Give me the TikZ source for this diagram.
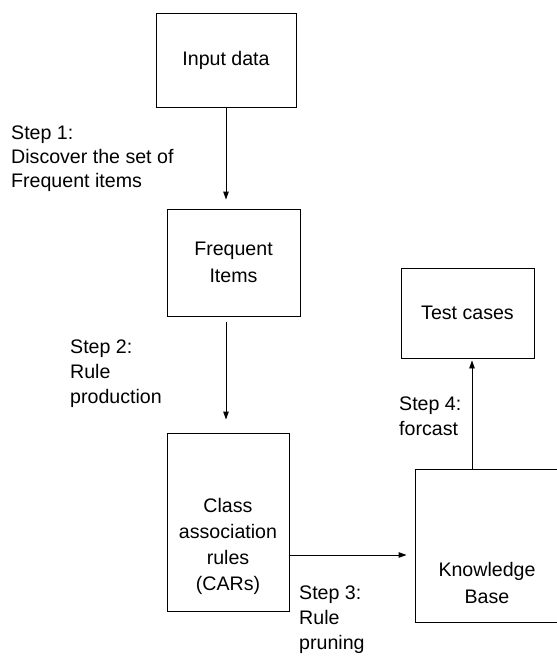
\documentclass[tikz,border=0pt]{standalone}
\usepackage{fontspec}
\setmainfont{Liberation Sans}
\usetikzlibrary{arrows.meta}
\tikzset{
	box/.style 2 args={draw,line width=0.9pt,minimum width=#1,minimum height=#2,inner sep=0pt},
	boxtext/.style={inner sep=0pt,align=center,font=\fontsize{19.6}{27}\selectfont},
	steptext/.style={inner sep=0pt,anchor=north west,align=left,font=\fontsize{19.6}{25}\selectfont},
	arr/.style={-{Triangle[length=8pt,width=5.5pt]},line width=0.9pt}
}
\begin{document}
\begin{tikzpicture}[x=1pt,y=-1pt]
					\useasboundingbox (0,0) rectangle (557,657);

					\node [box={140pt}{94pt},boxtext] (input) at (226,60) {Input data};
					\node [box={133pt}{107pt},boxtext] (freq) at (233.5,262.5) {Frequent\\Items};
					\node [box={122pt}{178pt}] (cars) at (228,522) {};
					\node [box={147pt}{153pt}] (kb) at (488.5,545.5) {};
					\node [box={133pt}{90pt},boxtext] (test) at (467.5,313) {Test cases};

					\node [boxtext,anchor=north,font=\fontsize{19.6}{26}\selectfont] (carstext) at (228,498) {Class\\association\\rules\\(CARs)};
					\node [boxtext,anchor=north] (kbtext) at (487,562) {Knowledge\\Base};

					\node [steptext,font=\fontsize{19.6}{24}\selectfont] (step1) at (11,126) {Step 1:\\Discover the set of\\Frequent items};
					\node [steptext] (step2) at (70,340) {Step 2:\\Rule\\production};
					\node [steptext] (step3) at (299,586) {Step 3:\\Rule\\pruning};
					\node [steptext] (step4) at (399,397) {Step 4:\\forcast};

					\draw [arr,shorten >=9pt] (input.south) -- (input.south |- freq.north);
					\draw [arr,shorten <=6pt,shorten >=13pt] (input.south |- freq.south) -- (input.south |- cars.north);
					\draw [arr,shorten >=8pt] ([yshift=-33pt]cars.east) -- ([yshift=-33pt]cars.east -| kb.west);
					\draw [arr,shorten >=2pt] ([xshift=-16.5pt]kb.north) -- ([xshift=-16.5pt]kb.north |- test.south);
				\end{tikzpicture}
\end{document}
